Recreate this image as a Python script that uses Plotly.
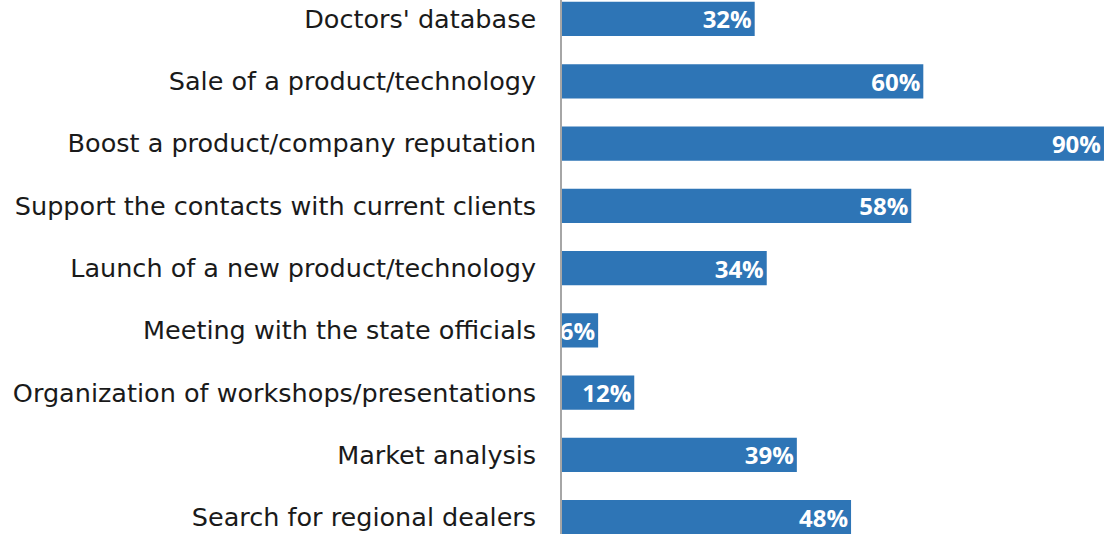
import plotly.graph_objects as go

# categories listed top to bottom
categories = [
    "Doctors' database",
    "Sale of a product/technology",
    "Boost a product/company reputation",
    "Support the contacts with current clients",
    "Launch of a new product/technology",
    "Meeting with the state officials",
    "Organization of workshops/presentations",
    "Market analysis",
    "Search for regional dealers",
]
shares = [32, 60, 90, 58, 34, 6, 12, 39, 48]
share_labels = [f"{v}%" for v in shares]

fig = go.Figure()
fig.add_trace(go.Bar(
    x=shares, y=categories, orientation='h',
    marker=dict(color='#2E75B6', line=dict(width=0)),
    text=share_labels, textposition='inside', insidetextanchor='end',
    textfont=dict(family='Open Sans', size=24, color='white', weight='bold'),
    cliponaxis=False,
))

fig.update_layout(
    width=1113, height=534,
    margin=dict(l=562, r=0, t=0, b=0),
    plot_bgcolor='white', paper_bgcolor='white',
    showlegend=False, bargap=0.45,
    uniformtext=dict(minsize=24, mode='show'),
)
fig.update_xaxes(range=[0, 91.5], showgrid=False, zeroline=False,
                 showticklabels=False, showline=False)
fig.update_yaxes(range=[8.27, -0.305], showgrid=False, zeroline=False,
                 showline=True, linecolor='#A6A6A6', linewidth=1.5,
                 ticks='', ticklabelstandoff=19,
                 tickfont=dict(family='DejaVu Sans', size=25.5, color='#1a1a1a'))

# the page body has a default margin; drop it so the figure sits at 0,0
fig.write_html("out.html", config={'displayModeBar': False},
               post_script="document.body.style.margin='0';")
